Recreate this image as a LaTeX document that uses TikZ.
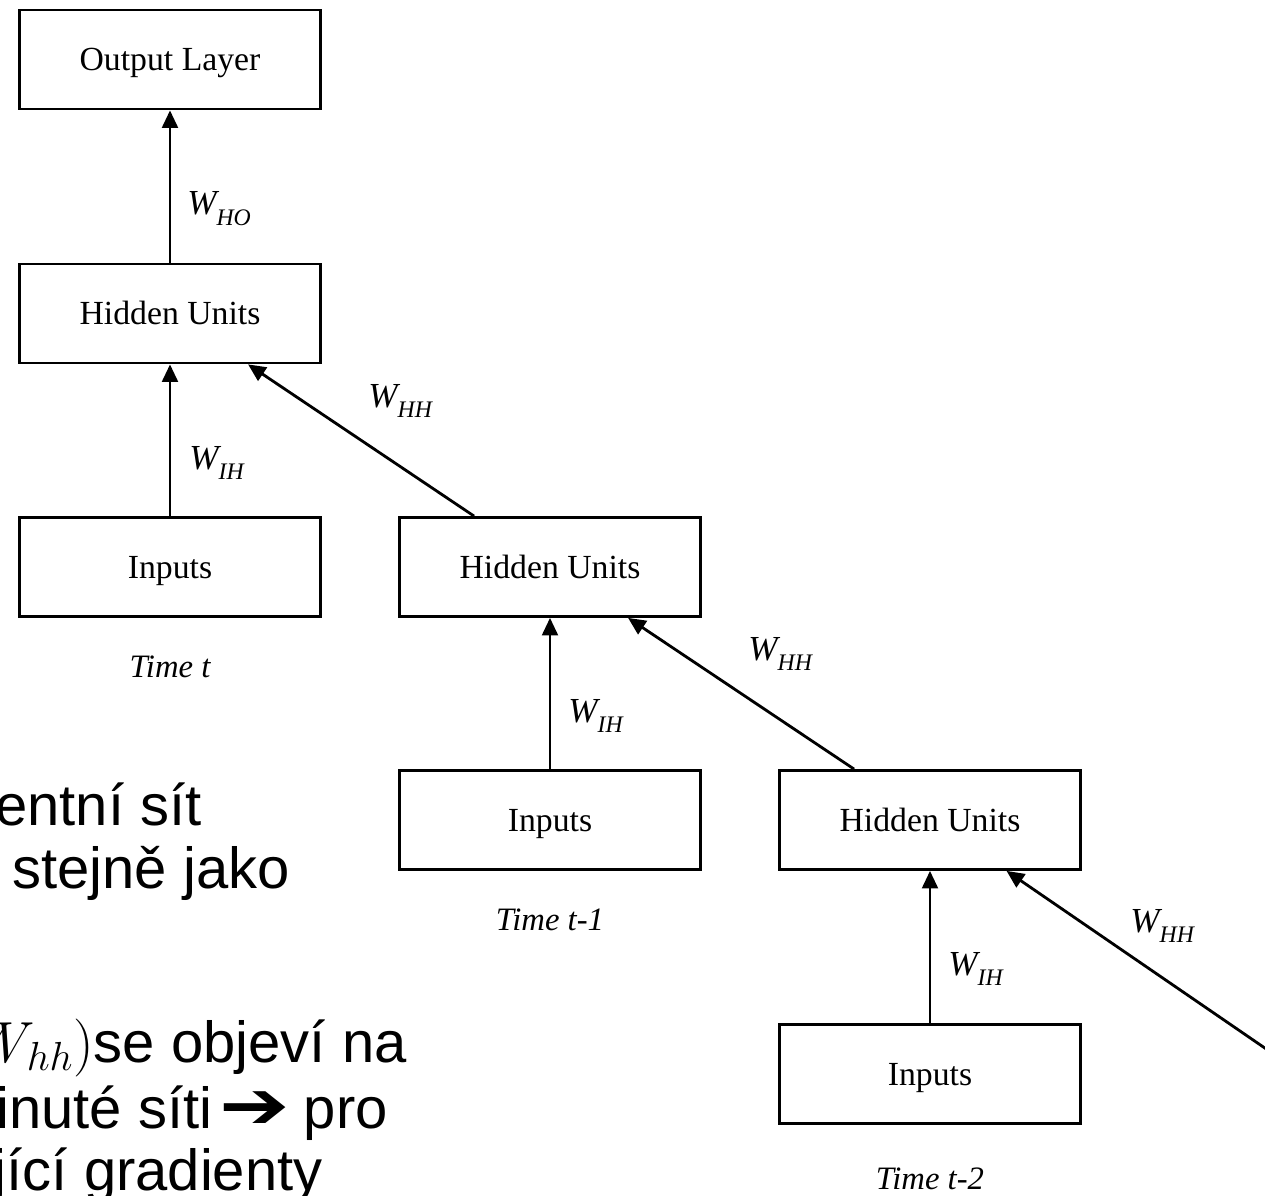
\documentclass[tikz,border=0pt]{standalone}
\usepackage{fix-cm}
\usepackage{fontspec}
\setmainfont{Liberation Serif}
\newfontfamily\slidefont{Liberation Sans}
\newfontfamily\dingfont{DejaVu Sans}
\usetikzlibrary{arrows.meta,calc}

% weight label: italic W with a lowered, smaller italic index
\newcommand\wlab[1]{{\fontsize{20}{20}\selectfont\itshape W}{\fontsize{13.5}{14}\selectfont\itshape\raisebox{-6pt}{#1}}}

\begin{document}
\begin{tikzpicture}[x=0.02cm,y=-0.02cm,
  layer/.style={draw,line width=1.6pt,minimum width=6.02cm,minimum height=1.98cm,
    inner sep=0pt,text height=13pt,text depth=0pt,font=\fontsize{19.2}{20}\selectfont},
  wire/.style={line width=1.6pt,-{Triangle[length=10pt,width=9pt]}},
  wt/.style={anchor=base west,inner sep=0pt},
  timelab/.style={anchor=base,inner sep=0pt,font=\fontsize{18.6}{20}\selectfont\itshape},
  slide/.style={anchor=base east,inner sep=0pt,font=\slidefont\fontsize{33}{36}\selectfont}]
\useasboundingbox (0,0) rectangle (1265,1196);

% unfolded recurrent network, three time steps
\node[layer] (out)  at (170,59.5) {Output Layer};
\node[layer] (hid1) at (170,313.5) {Hidden Units};
\node[layer] (in1)  at (170,567) {Inputs};
\node[layer] (hid2) at (550,567) {Hidden Units};
\node[layer] (in2)  at (550,820) {Inputs};
\node[layer] (hid3) at (930,820) {Hidden Units};
\node[layer] (in3)  at (930,1074) {Inputs};

\node[timelab] (t0) at (170,677) {Time t};
\node[timelab] (t1) at (550,930) {Time t-1};
\node[timelab] (t2) at (930,1189) {Time t-2};

% connections
\draw[wire] (hid1.north) -- (out.south);
\draw[wire] (in1.north) -- (hid1.south);
\draw[wire] (in2.north) -- (hid2.south);
\draw[wire] (in3.north) -- (hid3.south);
\draw[wire] ($(hid2.north west)!0.25!(hid2.north east)$) -- ($(hid1.south west)!0.757!(hid1.south east)$);
\draw[wire] ($(hid3.north west)!0.25!(hid3.north east)$) -- ($(hid2.south west)!0.757!(hid2.south east)$);
\coordinate (prev) at (1275,1055);
\draw[wire] (prev) -- ($(hid3.south west)!0.752!(hid3.south east)$);

% weight labels
\node[wt] (who)  at (187,215) {\wlab{HO}};
\node[wt] (wih1) at (189,469) {\wlab{IH}};
\node[wt] (whh1) at (368,407) {\wlab{HH}};
\node[wt] (wih2) at (568,722) {\wlab{IH}};
\node[wt] (whh2) at (748,660) {\wlab{HH}};
\node[wt] (wih3) at (948,975) {\wlab{IH}};
\node[wt] (whh3) at (1130,932) {\wlab{HH}};

% slide text
\node[slide] (l1) at (202,825) {entní sít};
\node[slide] (l2) at (290,888) {stejně jako};
\node[slide] (l3) at (407,1062) {$W_{hh})$se objeví na};
\node[slide] (l4) at (388,1128) {inuté síti\hspace{4pt}\scalebox{1.45}[1.15]{\dingfont ➔}\hspace{8pt}pro};
\node[slide] (l5) at (323,1190) {jící gradienty};
\end{tikzpicture}
\end{document}
